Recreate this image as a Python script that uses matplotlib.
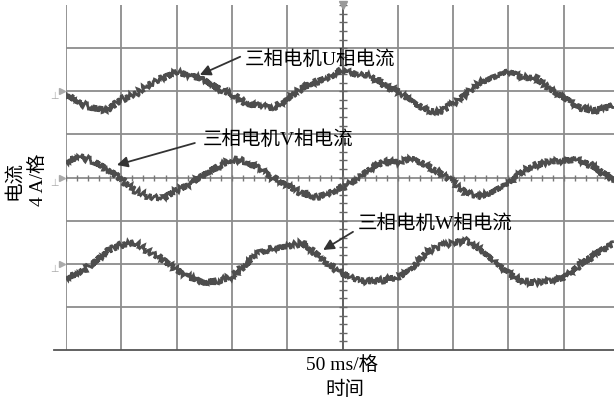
import matplotlib
matplotlib.use('Agg')
import matplotlib.pyplot as plt
import numpy as np

# 时间轴（格），每格 50 ms
t_div = [0, 0.25, 0.5, 0.75, 1.0, 1.25, 1.5, 1.75, 2.0, 2.25, 2.5, 2.75,
         3.0, 3.25, 3.5, 3.75, 4.0, 4.25, 4.5, 4.75, 5.0, 5.25, 5.5, 5.75,
         6.0, 6.25, 6.5, 6.75, 7.0, 7.25, 7.5, 7.75, 8.0, 8.25, 8.5, 8.75,
         9.0, 9.25, 9.5, 9.75, 9.9]

# 三相电流（格，相对各自地线），每格 4 A
u_cur = [-0.05, -0.28, -0.39, -0.44, -0.19, -0.07, 0.16, 0.30, 0.44, 0.37, 0.26, 0.07,
         -0.07, -0.28, -0.35, -0.39, -0.21, 0.07, 0.21, 0.32, 0.49, 0.39, 0.35, 0.14,
         0.0, -0.23, -0.42, -0.49, -0.30, -0.05, 0.21, 0.32, 0.46, 0.32, 0.30, 0.05,
         -0.14, -0.35, -0.46, -0.39, -0.32]
v_cur = [0.37, 0.49, 0.37, 0.19, -0.05, -0.30, -0.44, -0.49, -0.30, -0.14, 0.07, 0.26,
         0.42, 0.37, 0.19, -0.02, -0.19, -0.35, -0.46, -0.37, -0.23, -0.05, 0.19, 0.37,
         0.35, 0.44, 0.30, 0.12, -0.12, -0.37, -0.44, -0.32, -0.14, 0.14, 0.28, 0.37,
         0.39, 0.42, 0.28, 0.07, -0.07]
w_cur = [-0.32, -0.21, 0.02, 0.30, 0.44, 0.49, 0.28, 0.09, -0.14, -0.32, -0.44, -0.39,
         -0.30, -0.02, 0.26, 0.35, 0.39, 0.49, 0.26, -0.02, -0.23, -0.37, -0.42, -0.37,
         -0.32, -0.12, 0.26, 0.39, 0.49, 0.53, 0.32, 0.02, -0.21, -0.42, -0.44, -0.39,
         -0.32, -0.07, 0.16, 0.37, 0.46]

# 通道地线位置（格）
ground = {'U': 6, 'V': 4, 'W': 2}

fonts = ['Liberation Serif', 'Noto Sans CJK SC']
fs = 14

fig = plt.figure(figsize=(6.14, 4.03), dpi=100)
ax = fig.add_axes([66 / 614, 53 / 403, 548 / 614, 345 / 403])
ax.set_xlim(0, 548 / 55.3)
ax.set_ylim(0, 8)
ax.axis('off')

# 网格
grid_c = '#8c8c8c'
for gx in range(0, 10):
    ax.axvline(gx, color=grid_c, lw=1.3, zorder=1)
for gy in range(1, 8):
    ax.axhline(gy, color=grid_c, lw=1.3, zorder=1)
# 底线（向左多伸出一点）
ax.plot([-0.22, 548 / 55.3], [0, 0], color='#555555', lw=1.3, clip_on=False, zorder=2)

# 中心刻度线
ax.axvline(5, color='#555555', lw=1.1, zorder=2)
minor = np.arange(0, 8.01, 0.2)
ax.plot(np.full_like(minor, 5), minor, '_', color='#666666', ms=6, mew=1.0, zorder=2)
minor_x = np.arange(0, 9.91, 0.2)
ax.plot(minor_x, np.full_like(minor_x, 4), '|', color='#777777', ms=5, mew=1.0, zorder=2)
ax.plot([5], [8], marker='v', color='#999999', ms=6, clip_on=False, zorder=3)

# 三相波形
trace_c = '#4d4d4d'
for key, vals in (('U', u_cur), ('V', v_cur), ('W', w_cur)):
    yy = np.array(vals) + ground[key]
    ln, = ax.plot(t_div, yy, color=trace_c, lw=2.0, zorder=4, solid_joinstyle='miter')
    ln.set_sketch_params(scale=3.2, length=2.0, randomness=2.5)
    # 地线标记
    ax.plot([-0.08], [ground[key]], marker='>', color='#aaaaaa', ms=4, clip_on=False, zorder=3)
    ax.text(-0.2, ground[key] - 0.12, '⊥', color='#aaaaaa', fontsize=7,
            ha='center', va='center', clip_on=False)

# 标注
arrow = dict(arrowstyle='-|>', color='#333333', lw=1.3, mutation_scale=16,
             shrinkA=0, shrinkB=0)
ax.text(3.24, 6.73, '三相电机U相电流', family=fonts, fontsize=fs, ha='left', va='center')
ax.annotate('', xy=(2.42, 6.38), xytext=(3.15, 6.80), arrowprops=arrow)
ax.text(2.48, 4.87, '三相电机V相电流', family=fonts, fontsize=fs, ha='left', va='center')
ax.annotate('', xy=(0.92, 4.29), xytext=(2.33, 4.80), arrowprops=arrow)
ax.text(5.28, 2.92, '三相电机W相电流', family=fonts, fontsize=fs, ha='left', va='center')
ax.annotate('', xy=(4.65, 2.32), xytext=(5.19, 2.74), arrowprops=arrow)

# 轴标签
fig.text(14 / 614, 1 - 180 / 403, '电流', family=fonts, fontsize=fs,
         rotation=90, ha='center', va='center')
fig.text(38 / 614, 1 - 180 / 403, '4 A/格', family=fonts, fontsize=fs,
         rotation=90, ha='center', va='center')
fig.text(342 / 614, 1 - 365 / 403, '50 ms/格', family=fonts, fontsize=fs,
         ha='center', va='center')
fig.text(345 / 614, 1 - 390 / 403, '时间', family=fonts, fontsize=fs,
         ha='center', va='center')

fig.savefig('out.png', dpi=100)
